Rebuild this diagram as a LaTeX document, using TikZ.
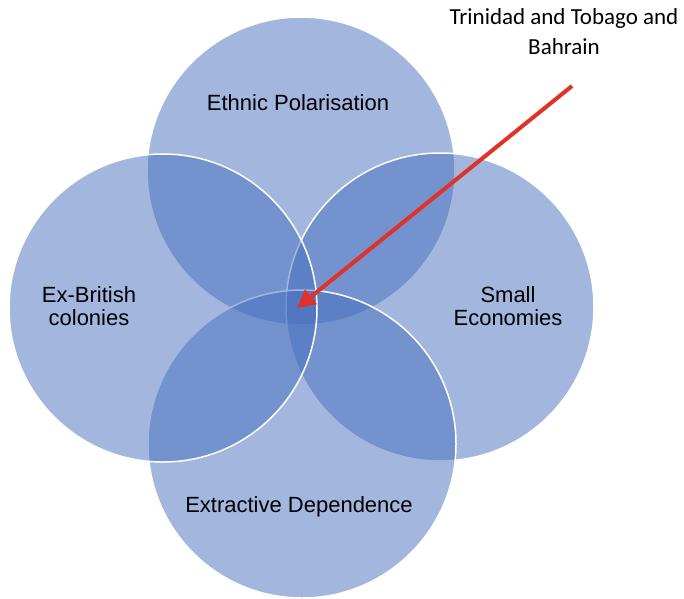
\documentclass[tikz,border=0pt]{standalone}
\usepackage{fontspec}
\setmainfont{Liberation Sans}
\newfontfamily\calibri{Carlito}
\usepackage{tikz}
\usetikzlibrary{arrows.meta, positioning}
\usepackage{xcolor}
\definecolor{vennblue}{RGB}{70,110,190}
\definecolor{arrowred}{RGB}{224,50,38}

\tikzset{
  venn/.style={circle, minimum size=308pt, inner sep=0pt, fill=vennblue, fill opacity=0.5, draw=white, line width=1.5pt},
  lbl/.style={font=\fontsize{22}{23.5}\selectfont, align=center, text=black}
}

\begin{document}
\begin{tikzpicture}[x=1pt, y=-1pt]
  \useasboundingbox (0,0) rectangle (684,598);
  % circles, back to front
  \node[venn] (ethnic) at (301,171) {};
  \node[venn] (small) at (440,307) {};
  \node[venn] (extract) at (302,444) {};
  \node[venn] (british) at (163,308) {};
  % labels
  \node[lbl] at (298,103) {Ethnic Polarisation};
  \node[lbl] at (89,306) {Ex-British\\colonies};
  \node[lbl] at (508,306) {Small\\Economies};
  \node[lbl] at (299,507) {Extractive Dependence};
  % callout
  \node[font=\calibri\fontsize{23}{30}\selectfont, align=center] (tt) at (564,32) {Trinidad and Tobago and\\Bahrain};
  \coordinate (tail) at (572,86);
  \coordinate (core) at (297,308);
  \draw[arrowred, line width=4pt, -{Triangle[length=18pt, width=18pt]}] (tail) -- (core);
\end{tikzpicture}
\end{document}
